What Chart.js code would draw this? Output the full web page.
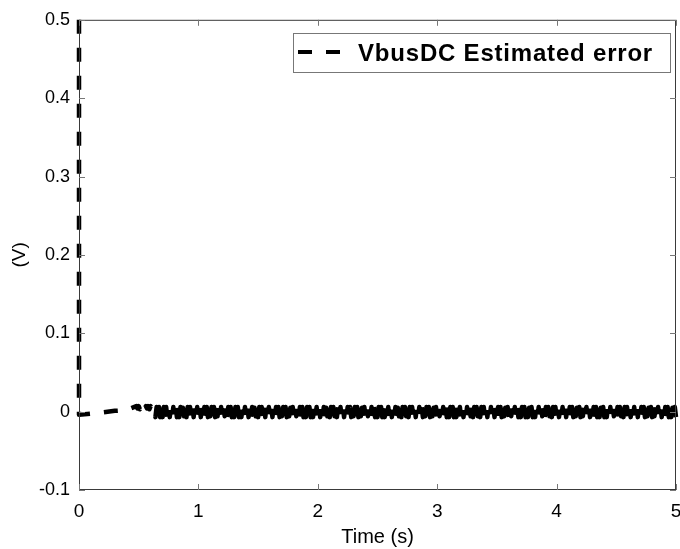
<!DOCTYPE html>
<html>
<head>
<meta charset="utf-8">
<script src="https://cdn.jsdelivr.net/npm/chart.js@4.4.0/dist/chart.umd.min.js"></script>
<style>
  html, body { margin: 0; padding: 0; background: #fff; }
  #wrap { width: 680px; height: 549px; }
</style>
</head>
<body>
<div id="wrap"><canvas id="errChart" width="680" height="549"></canvas></div>
<script>
// start of the trace: spike at t=0, slow drift, then a small ripple near 0.5 s
const startTimes = [0, 0, 0.07, 0.2, 0.3, 0.4,
  0.48, 0.49, 0.50, 0.51, 0.52, 0.53, 0.54, 0.55, 0.56, 0.57, 0.58, 0.59, 0.60, 0.61, 0.62, 0.63];
const startValues = [0.5, -0.004, -0.003, -0.001, 0.001, 0.002,
  0.007, 0.004, 0.007, 0.003, 0.007, 0.004, 0.007, 0.003, 0.007, 0.004, 0.007, 0.003, 0.007, 0.004, 0.006, 0.003];

// ripple part
const rippleTimes = [
  0.64,0.65,0.66,0.67,0.68,0.69,0.70,0.71,0.72,0.73,0.74,0.75,0.76,0.77,0.78,0.79,0.80,0.81,0.82,0.83,
  0.84,0.85,0.86,0.87,0.88,0.89,0.90,0.91,0.92,0.93,0.94,0.95,0.96,0.97,0.98,0.99,1.00,1.01,1.02,1.03,
  1.04,1.05,1.06,1.07,1.08,1.09,1.10,1.11,1.12,1.13,1.14,1.15,1.16,1.17,1.18,1.19,1.20,1.21,1.22,1.23,
  1.24,1.25,1.26,1.27,1.28,1.29,1.30,1.31,1.32,1.33,1.34,1.35,1.36,1.37,1.38,1.39,1.40,1.41,1.42,1.43,
  1.44,1.45,1.46,1.47,1.48,1.49,1.50,1.51,1.52,1.53,1.54,1.55,1.56,1.57,1.58,1.59,1.60,1.61,1.62,1.63,
  1.64,1.65,1.66,1.67,1.68,1.69,1.70,1.71,1.72,1.73,1.74,1.75,1.76,1.77,1.78,1.79,1.80,1.81,1.82,1.83,
  1.84,1.85,1.86,1.87,1.88,1.89,1.90,1.91,1.92,1.93,1.94,1.95,1.96,1.97,1.98,1.99,2.00,2.01,2.02,2.03,
  2.04,2.05,2.06,2.07,2.08,2.09,2.10,2.11,2.12,2.13,2.14,2.15,2.16,2.17,2.18,2.19,2.20,2.21,2.22,2.23,
  2.24,2.25,2.26,2.27,2.28,2.29,2.30,2.31,2.32,2.33,2.34,2.35,2.36,2.37,2.38,2.39,2.40,2.41,2.42,2.43,
  2.44,2.45,2.46,2.47,2.48,2.49,2.50,2.51,2.52,2.53,2.54,2.55,2.56,2.57,2.58,2.59,2.60,2.61,2.62,2.63,
  2.64,2.65,2.66,2.67,2.68,2.69,2.70,2.71,2.72,2.73,2.74,2.75,2.76,2.77,2.78,2.79,2.80,2.81,2.82,2.83,
  2.84,2.85,2.86,2.87,2.88,2.89,2.90,2.91,2.92,2.93,2.94,2.95,2.96,2.97,2.98,2.99,3.00,3.01,3.02,3.03,
  3.04,3.05,3.06,3.07,3.08,3.09,3.10,3.11,3.12,3.13,3.14,3.15,3.16,3.17,3.18,3.19,3.20,3.21,3.22,3.23,
  3.24,3.25,3.26,3.27,3.28,3.29,3.30,3.31,3.32,3.33,3.34,3.35,3.36,3.37,3.38,3.39,3.40,3.41,3.42,3.43,
  3.44,3.45,3.46,3.47,3.48,3.49,3.50,3.51,3.52,3.53,3.54,3.55,3.56,3.57,3.58,3.59,3.60,3.61,3.62,3.63,
  3.64,3.65,3.66,3.67,3.68,3.69,3.70,3.71,3.72,3.73,3.74,3.75,3.76,3.77,3.78,3.79,3.80,3.81,3.82,3.83,
  3.84,3.85,3.86,3.87,3.88,3.89,3.90,3.91,3.92,3.93,3.94,3.95,3.96,3.97,3.98,3.99,4.00,4.01,4.02,4.03,
  4.04,4.05,4.06,4.07,4.08,4.09,4.10,4.11,4.12,4.13,4.14,4.15,4.16,4.17,4.18,4.19,4.20,4.21,4.22,4.23,
  4.24,4.25,4.26,4.27,4.28,4.29,4.30,4.31,4.32,4.33,4.34,4.35,4.36,4.37,4.38,4.39,4.40,4.41,4.42,4.43,
  4.44,4.45,4.46,4.47,4.48,4.49,4.50,4.51,4.52,4.53,4.54,4.55,4.56,4.57,4.58,4.59,4.60,4.61,4.62,4.63,
  4.64,4.65,4.66,4.67,4.68,4.69,4.70,4.71,4.72,4.73,4.74,4.75,4.76,4.77,4.78,4.79,4.80,4.81,4.82,4.83,
  4.84,4.85,4.86,4.87,4.88,4.89,4.90,4.91,4.92,4.93,4.94,4.95,4.96,4.97,4.98,4.99,5.00
];
const rippleValues = [
  -0.007,0.006,-0.006,0.006,-0.007,0.005,-0.007,0.006,-0.006,0.006,-0.007,0.006,-0.007,0.005,-0.006,0.006,-0.007,0.006,-0.007,0.005,
  -0.007,0.006,-0.007,0.005,-0.006,0.006,-0.007,0.006,-0.007,0.006,-0.006,0.005,-0.007,0.006,-0.007,0.006,-0.006,0.006,-0.007,0.005,
  -0.006,0.006,-0.007,0.006,-0.007,0.005,-0.006,0.006,-0.007,0.006,-0.007,0.006,-0.006,0.005,-0.007,0.006,-0.007,0.006,-0.006,0.006,
  -0.007,0.006,-0.006,0.006,-0.007,0.005,-0.007,0.006,-0.006,0.006,-0.007,0.006,-0.007,0.005,-0.006,0.006,-0.007,0.006,-0.007,0.005,
  -0.007,0.006,-0.007,0.005,-0.006,0.006,-0.007,0.006,-0.007,0.006,-0.006,0.005,-0.007,0.006,-0.007,0.006,-0.006,0.006,-0.007,0.005,
  -0.006,0.006,-0.007,0.006,-0.007,0.005,-0.006,0.006,-0.007,0.006,-0.007,0.006,-0.006,0.005,-0.007,0.006,-0.007,0.006,-0.006,0.006,
  -0.007,0.006,-0.006,0.006,-0.007,0.005,-0.007,0.006,-0.006,0.006,-0.007,0.006,-0.007,0.005,-0.006,0.006,-0.007,0.006,-0.007,0.005,
  -0.007,0.006,-0.007,0.005,-0.006,0.006,-0.007,0.006,-0.007,0.006,-0.006,0.005,-0.007,0.006,-0.007,0.006,-0.006,0.006,-0.007,0.005,
  -0.006,0.006,-0.007,0.006,-0.007,0.005,-0.006,0.006,-0.007,0.006,-0.007,0.006,-0.006,0.005,-0.007,0.006,-0.007,0.006,-0.006,0.006,
  -0.007,0.006,-0.006,0.006,-0.007,0.005,-0.007,0.006,-0.006,0.006,-0.007,0.006,-0.007,0.005,-0.006,0.006,-0.007,0.006,-0.007,0.005,
  -0.007,0.006,-0.007,0.005,-0.006,0.006,-0.007,0.006,-0.007,0.006,-0.006,0.005,-0.007,0.006,-0.007,0.006,-0.006,0.006,-0.007,0.005,
  -0.006,0.006,-0.007,0.006,-0.007,0.005,-0.006,0.006,-0.007,0.006,-0.007,0.006,-0.006,0.005,-0.007,0.006,-0.007,0.006,-0.006,0.006,
  -0.007,0.006,-0.006,0.006,-0.007,0.005,-0.007,0.006,-0.006,0.006,-0.007,0.006,-0.007,0.005,-0.006,0.006,-0.007,0.006,-0.007,0.005,
  -0.007,0.006,-0.007,0.005,-0.006,0.006,-0.007,0.006,-0.007,0.006,-0.006,0.005,-0.007,0.006,-0.007,0.006,-0.006,0.006,-0.007,0.005,
  -0.006,0.006,-0.007,0.006,-0.007,0.005,-0.006,0.006,-0.007,0.006,-0.007,0.006,-0.006,0.005,-0.007,0.006,-0.007,0.006,-0.006,0.006,
  -0.007,0.006,-0.006,0.006,-0.007,0.005,-0.007,0.006,-0.006,0.006,-0.007,0.006,-0.007,0.005,-0.006,0.006,-0.007,0.006,-0.007,0.005,
  -0.007,0.006,-0.007,0.005,-0.006,0.006,-0.007,0.006,-0.007,0.006,-0.006,0.005,-0.007,0.006,-0.007,0.006,-0.006,0.006,-0.007,0.005,
  -0.006,0.006,-0.007,0.006,-0.007,0.005,-0.006,0.006,-0.007,0.006,-0.007,0.006,-0.006,0.005,-0.007,0.006,-0.007,0.006,-0.006,0.006,
  -0.007,0.006,-0.006,0.006,-0.007,0.005,-0.007,0.006,-0.006,0.006,-0.007,0.006,-0.007,0.005,-0.006,0.006,-0.007,0.006,-0.007,0.005,
  -0.007,0.006,-0.007,0.005,-0.006,0.006,-0.007,0.006,-0.007,0.006,-0.006,0.005,-0.007,0.006,-0.007,0.006,-0.006,0.006,-0.007,0.005,
  -0.006,0.006,-0.007,0.006,-0.007,0.005,-0.006,0.006,-0.007,0.006,-0.007,0.006,-0.006,0.005,-0.007,0.006,-0.007,0.006,-0.006,0.006,
  -0.007,0.006,-0.006,0.006,-0.007,0.005,-0.007,0.006,-0.006,0.006,-0.007,0.006,-0.007,0.005,-0.006,0.006,-0.007
];

const xTicks = [0, 1, 2, 3, 4, 5];
const yTicks = [-0.1, 0, 0.1, 0.2, 0.3, 0.4, 0.5];
const seriesLabel = 'VbusDC Estimated error';

const points = [];
startTimes.forEach((t, i) => points.push({ x: t, y: startValues[i] }));
rippleTimes.forEach((t, i) => points.push({ x: t, y: rippleValues[i] }));

const FONT = "'Liberation Sans', Arial, sans-serif";
const DASH = [14, 14];

// matlab style frame: full box with inward ticks, plus the boxed legend
const boxPlugin = {
  id: 'box',
  afterDatasetsDraw(chart) {
    const { ctx, chartArea: a, scales } = chart;
    ctx.save();
    ctx.strokeStyle = '#3a3a3a';
    ctx.lineWidth = 1;
    ctx.strokeRect(a.left + 0.5, a.top + 0.5, a.right - a.left - 1, a.bottom - a.top - 1);
    ctx.strokeStyle = '#777';
    ctx.beginPath();
    xTicks.forEach(v => {
      const x = Math.round(scales.x.getPixelForValue(v)) + 0.5;
      ctx.moveTo(x, a.bottom); ctx.lineTo(x, a.bottom - 6);
      ctx.moveTo(x, a.top); ctx.lineTo(x, a.top + 6);
    });
    yTicks.forEach(v => {
      const y = Math.round(scales.y.getPixelForValue(v)) + 0.5;
      ctx.moveTo(a.left, y); ctx.lineTo(a.left + 6, y);
      ctx.moveTo(a.right, y); ctx.lineTo(a.right - 6, y);
    });
    ctx.stroke();
    ctx.restore();
  },
  afterDraw(chart) {
    const { ctx } = chart;
    ctx.save();
    ctx.fillStyle = '#fff';
    ctx.fillRect(293, 33, 377, 39);
    ctx.strokeStyle = '#777';
    ctx.lineWidth = 1;
    ctx.strokeRect(293.5, 33.5, 377, 39);
    ctx.strokeStyle = '#000';
    ctx.lineWidth = 4;
    ctx.setLineDash(DASH);
    ctx.beginPath();
    ctx.moveTo(298, 52);
    ctx.lineTo(342, 52);
    ctx.stroke();
    ctx.setLineDash([]);
    ctx.fillStyle = '#000';
    ctx.font = 'bold 24px ' + FONT;
    ctx.letterSpacing = '0.8px';
    ctx.textBaseline = 'middle';
    ctx.fillText(seriesLabel, 358, 54);
    ctx.restore();
  }
};

new Chart(document.getElementById('errChart'), {
  type: 'line',
  data: {
    datasets: [{
      label: seriesLabel,
      data: points,
      borderColor: '#000',
      borderWidth: 4.5,
      borderDash: DASH,
      borderJoinStyle: 'round',
      pointRadius: 0,
      tension: 0,
      fill: false,
      clip: false
    }]
  },
  options: {
    responsive: false,
    animation: false,
    layout: { padding: { top: 19, right: 4, left: 0, bottom: 0 } },
    plugins: { legend: { display: false }, tooltip: { enabled: false } },
    scales: {
      x: {
        type: 'linear',
        min: 0, max: 5,
        afterBuildTicks: s => { s.ticks = xTicks.map(v => ({ value: v })); },
        afterFit: s => { s.height = 59; s.paddingLeft = 0; s.paddingRight = 0; },
        grid: { display: false, drawTicks: false },
        border: { display: false },
        ticks: { color: '#000', padding: 10, font: { family: FONT, size: 19 } },
        title: {
          display: true, text: 'Time (s)', color: '#000',
          font: { family: FONT, size: 20 }, padding: { top: 0, bottom: 0 }
        }
      },
      y: {
        min: -0.1, max: 0.5,
        afterBuildTicks: s => { s.ticks = yTicks.map(v => ({ value: v })); },
        afterFit: s => { s.width = 79; },
        grid: { display: false, drawTicks: false },
        border: { display: false },
        ticks: {
          color: '#000', padding: 9, font: { family: FONT, size: 18 },
          callback: v => String(Math.round(v * 10) / 10)
        },
        title: {
          display: true, text: '(V)', color: '#000',
          font: { family: FONT, size: 19 }, padding: { top: 8, bottom: 0 }
        }
      }
    }
  },
  plugins: [boxPlugin]
});
</script>
</body>
</html>
